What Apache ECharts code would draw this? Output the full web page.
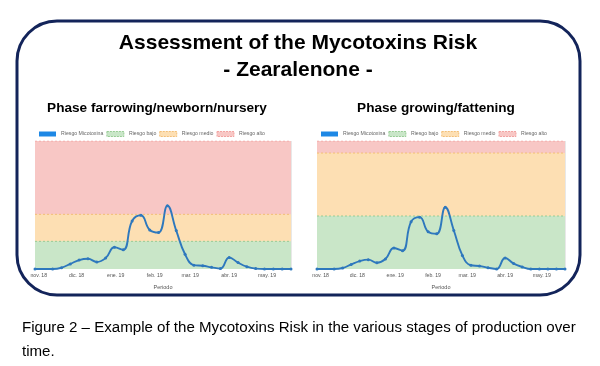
<!DOCTYPE html>
<html>
<head>
<meta charset="utf-8">
<script src="https://cdn.jsdelivr.net/npm/echarts@6/dist/echarts.min.js"></script>
<style>
html,body{margin:0;padding:0;background:#fff;}
#main{width:600px;height:366px;}
</style>
</head>
<body>
<div id="main"></div>
<script>
// ---- data ----
var weeks = ['2018-10-29','2018-11-12','2018-11-19','2018-11-26','2018-12-03','2018-12-10','2018-12-17','2018-12-24','2018-12-31','2019-01-07','2019-01-14','2019-01-21','2019-01-28','2019-02-04','2019-02-11','2019-02-18','2019-02-25','2019-03-04','2019-03-11','2019-03-18','2019-03-25','2019-04-01','2019-04-08','2019-04-15','2019-04-22','2019-04-29','2019-05-06','2019-05-13','2019-05-20'];
var riskNursery = [0,0,1,4,7,8,5.5,8.5,17,15,37.5,42,30.5,28.5,49.5,30,11.5,3,2.5,1.3,0.3,9,5,1.8,0.3,0,0,0,0];
var riskFattening = [0,0,0.8,3.6,6.2,7.3,4.9,7.8,16.4,14.3,36.9,40.5,29.1,27.5,48.3,30.1,10.6,2.9,2.3,1,0,8.6,4.2,1.6,0,0,0,0,0];
// band upper limits: [bajo, medio, alto]
var limitsNursery = [21.6, 42.7, 100];
var limitsFattening = [41.4, 90.6, 100];
var monthLabels = {'2018-11':'nov. 18','2018-12':'dic. 18','2019-1':'ene. 19','2019-2':'feb. 19','2019-3':'mar. 19','2019-4':'abr. 19','2019-5':'may. 19'};
var seriesNames = ['Riesgo Micotoxina','Riesgo bajo','Riesgo medio','Riesgo alto'];
var titleLines = ['Assessment of the Mycotoxins Risk','- Zearalenone -'];
var panelTitles = ['Phase farrowing/newborn/nursery','Phase growing/fattening'];
var captionLines = ['Figure 2 \u2013 Example of the Mycotoxins Risk in the various stages of production over','time.'];
var axisName = 'Periodo';

// ---- styles ----
var FONT = '"Liberation Sans", Arial, Helvetica, sans-serif';
var bandFill = ['#c9e6c8','#fddfb3','#f8c7c5'];
var bandLine = ['#98cc95','#f3bf77','#f2a3a1'];
var lineColor = '#2e78bd';

function monthLabel(v){
  var d = new Date(v);
  var key = d.getFullYear() + '-' + (d.getMonth()+1);
  return monthLabels[key] || '';
}

function pairs(vals){ return weeks.map(function(w,i){ return [w, vals[i]]; }); }
function flat(v){ return [[weeks[0], v],[weeks[weeks.length-1], v]]; }

var grids = [
  {left:35, top:141, width:256, height:128},
  {left:317, top:141, width:248, height:128}
];

function xAxis(idx){
  return {
    type:'time', gridIndex:idx,
    min: weeks[0], max: weeks[weeks.length-1],
    minInterval: 28*86400000, maxInterval: 31*86400000,
    axisLine:{show:false}, axisTick:{show:false},
    splitLine:{show:true, lineStyle:{color:'rgba(0,0,0,0.09)', width:1}},
    axisLabel:{fontSize:5.2, color:'#555', fontFamily:FONT, margin:4, formatter:function(v){return monthLabel(v);}, hideOverlap:false},
    name: axisName, nameLocation:'middle', nameGap:15,
    nameTextStyle:{fontSize:5.5, color:'#555', fontFamily:FONT}
  };
}
function yAxis(idx){
  return {type:'value', gridIndex:idx, min:0, max:100, show:false, splitLine:{show:false}};
}

function bandSeries(idx, limits){
  var out = [];
  for (var b = 2; b >= 0; b--) {
    out.push({
      name: seriesNames[b+1], type:'line', xAxisIndex:idx, yAxisIndex:idx,
      data: flat(limits[b]), showSymbol:false, symbol:'none', silent:true,
      lineStyle:{color:bandLine[b], type:[2,2], width:1},
      itemStyle:{color:bandFill[b]},
      areaStyle:{color:bandFill[b], opacity:1}
    });
  }
  return out;
}
function riskSeries(idx, vals){
  return {
    name: seriesNames[0], type:'line', xAxisIndex:idx, yAxisIndex:idx,
    data: pairs(vals), smooth:0.45, symbol:'circle', symbolSize:3,
    itemStyle:{color:lineColor}, lineStyle:{color:lineColor, width:1.9}, z:5
  };
}

function legend(left){
  return {
    left:left, top:131, padding:0, itemWidth:17, itemHeight:5, itemGap:3, icon:'rect',
    textStyle:{fontSize:5.2, color:'#666', fontFamily:FONT},
    selectedMode:false,
    data:[
      {name:seriesNames[0], itemStyle:{color:'#1e88e5', borderWidth:0}},
      {name:seriesNames[1], itemStyle:{color:bandFill[0], borderColor:bandLine[0], borderWidth:1, borderType:[2,1]}},
      {name:seriesNames[2], itemStyle:{color:bandFill[1], borderColor:bandLine[1], borderWidth:1, borderType:[2,1]}},
      {name:seriesNames[3], itemStyle:{color:bandFill[2], borderColor:bandLine[2], borderWidth:1, borderType:[2,1]}}
    ]
  };
}

var chart = echarts.init(document.getElementById('main'), null, {renderer:'canvas'});
chart.setOption({
  animation:false,
  backgroundColor:'#ffffff',
  grid: grids,
  xAxis: [xAxis(0), xAxis(1)],
  yAxis: [yAxis(0), yAxis(1)],
  legend: [legend(39), legend(321)],
  series: [].concat(bandSeries(0, limitsNursery), [riskSeries(0, riskNursery)], bandSeries(1, limitsFattening), [riskSeries(1, riskFattening)]),
  graphic: [
    {type:'rect', shape:{x:17, y:21, width:563, height:274, r:40}, style:{fill:'none', stroke:'#13245a', lineWidth:3}, z:100},
    {type:'text', x:298, y:43, style:{text:titleLines[0], font:'bold 21px ' + FONT, fill:'#000', textAlign:'center', textVerticalAlign:'middle'}},
    {type:'text', x:298, y:70, style:{text:titleLines[1], font:'bold 21px ' + FONT, fill:'#000', textAlign:'center', textVerticalAlign:'middle'}},
    {type:'text', x:157, y:108, style:{text:panelTitles[0], font:'bold 13.6px ' + FONT, fill:'#000', textAlign:'center', textVerticalAlign:'middle'}},
    {type:'text', x:436, y:108, style:{text:panelTitles[1], font:'bold 13.6px ' + FONT, fill:'#000', textAlign:'center', textVerticalAlign:'middle'}},
    {type:'text', x:22, y:328, style:{text:captionLines[0], font:'15.1px ' + FONT, fill:'#000', textAlign:'left', textVerticalAlign:'middle'}},
    {type:'text', x:22, y:352, style:{text:captionLines[1], font:'15.1px ' + FONT, fill:'#000', textAlign:'left', textVerticalAlign:'middle'}}
  ]
});
</script>
</body>
</html>
